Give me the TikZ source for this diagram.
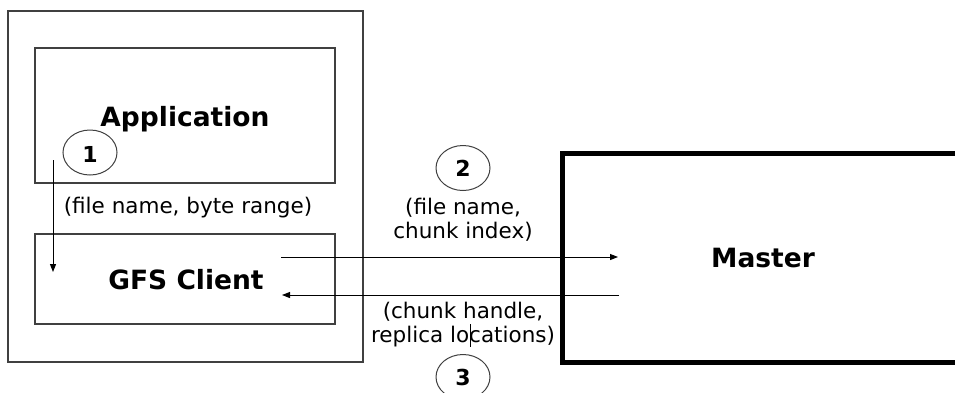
\documentclass[tikz,border=0pt]{standalone}
\usepackage{fontspec}
\setmainfont{DejaVu Sans}
\usetikzlibrary{arrows.meta}
\tikzset{
  frame/.style={draw=black!75, line width=1.2pt},
  thickframe/.style={draw=black, line width=5pt},
  titletext/.style={font=\fontsize{26.5}{30}\selectfont\bfseries, anchor=base, inner sep=0pt},
  labeltext/.style={font=\fontsize{21.5}{25}\selectfont, anchor=base, inner sep=0pt},
  numcircle/.style={draw=black!75, line width=1pt, ellipse, minimum width=54pt, minimum height=45pt, inner sep=0pt},
  numtext/.style={font=\fontsize{22}{26}\selectfont\bfseries, anchor=base, inner sep=0pt},
  msg/.style={draw=black, line width=1pt, -{Triangle[length=8pt,width=6pt]}},
}
\usetikzlibrary{shapes.geometric}
\begin{document}
\begin{tikzpicture}[x=1pt,y=-1pt]
\useasboundingbox[fill=white] (0,0) rectangle (955,392);
\begin{scope}
\clip (0,0) rectangle (955,392);
% boxes
\node[frame, minimum width=355pt, minimum height=351pt, inner sep=0pt] (outer) at (185.5,186.5) {};
\node[frame, minimum width=300pt, minimum height=135pt, inner sep=0pt] (app) at (185,115.5) {};
\node[frame, minimum width=300pt, minimum height=90pt, inner sep=0pt] (client) at (185,279) {};
\node[thickframe, minimum width=420pt, minimum height=209pt, inner sep=0pt] (master) at (772,257.5) {};
% titles
\node[titletext] (apptext) at (185,126) {Application};
\node[titletext] (clienttext) at (186,289) {GFS Client};
\node[titletext] (mastertext) at (763,267) {Master};
% circles
\node[numcircle] (c1) at (90,152.5) {};
\node[numtext] at (90,162) {1};
\node[numcircle] (c2) at (463,168) {};
\node[numtext] at (463,176) {2};
\node[numcircle] (c3) at (463,377) {};
\node[numtext] at (463,385) {3};
% labels
\node[labeltext] (l1) at (188,213) {(file name, byte range)};
\node[labeltext] (l2a) at (463,214) {(file name,};
\node[labeltext] (l2b) at (463,238) {chunk index)};
\node[labeltext] (l3a) at (463,318) {(chunk handle,};
\node[labeltext] (l3b) at (463,342) {replica locations)};
\draw[black, line width=0.8pt] (470,324) -- (470,347);
% connectors
\coordinate (dstart) at (53,160);
\coordinate (dend) at (53,272);
\coordinate (rstart) at (281,257);
\coordinate (rend) at (618,257);
\coordinate (lstart) at (619,295);
\coordinate (lend) at (282,295);
\draw[msg] (dstart) -- (dend);
\draw[msg] (rstart) -- (rend);
\draw[msg] (lstart) -- (lend);
\end{scope}
\end{tikzpicture}
\end{document}
